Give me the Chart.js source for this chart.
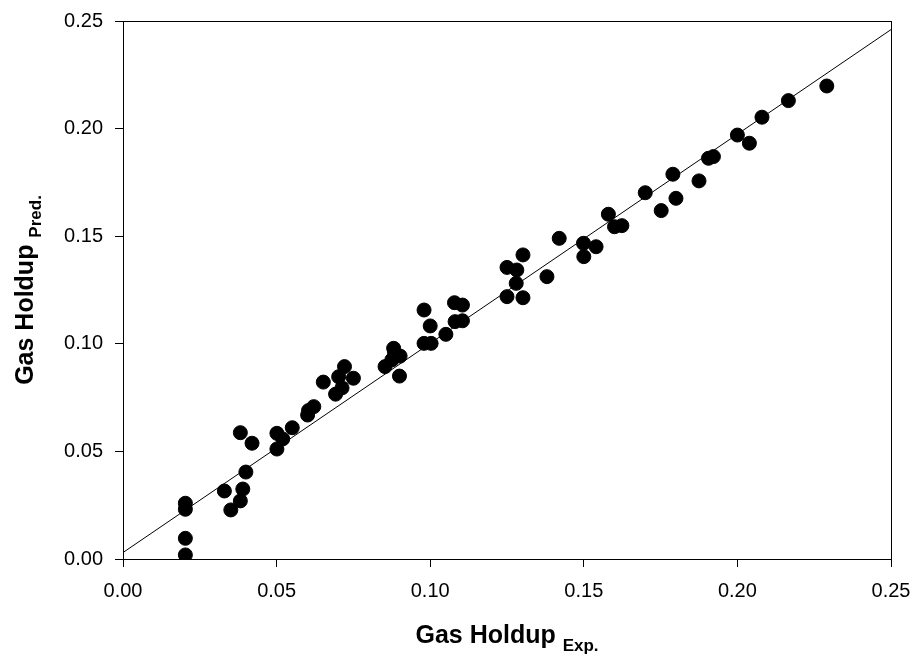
<!DOCTYPE html>
<html>
<head>
<meta charset="utf-8">
<script src="https://cdn.jsdelivr.net/npm/chart.js@4"></script>
<style>
    body { margin: 0; background: #fff; }
    canvas { display: block; }
</style>
</head>
<body>
<canvas id="holdup-chart" width="917" height="658"></canvas>
<script>
/// -------------- DATA --------------- ///

const expHoldup = [
    0.0203, 0.0203, 0.0203, 0.0203, 0.033, 0.0351, 0.0382, 0.039, 0.040, 0.0382,
    0.042, 0.0501, 0.052, 0.0501, 0.0551, 0.0601, 0.0604, 0.0621, 0.0652, 0.0692,
    0.0713, 0.0702, 0.0721, 0.075, 0.0853, 0.0881, 0.0884, 0.0902, 0.0875, 0.090,
    0.098, 0.100, 0.098, 0.1003, 0.1051, 0.1079, 0.1105, 0.1081, 0.1105, 0.125,
    0.1282, 0.128, 0.125, 0.1302, 0.1302, 0.138, 0.142, 0.1499, 0.154, 0.150,
    0.158, 0.160, 0.1624, 0.170, 0.1752, 0.179, 0.180, 0.1875, 0.1906, 0.1922,
    0.200, 0.2039, 0.208, 0.2166, 0.2291
];

const predHoldup = [
    0.0259, 0.0231, 0.0096, 0.0019, 0.0316, 0.0228, 0.027, 0.0325, 0.0404, 0.0587,
    0.0538, 0.0584, 0.0558, 0.0511, 0.061, 0.0669, 0.069, 0.0708, 0.0822, 0.0766,
    0.0795, 0.0847, 0.0894, 0.084, 0.0894, 0.0979, 0.0956, 0.0943, 0.0925, 0.085,
    0.1157, 0.1083, 0.1002, 0.1002, 0.1044, 0.1191, 0.118, 0.1103, 0.1107, 0.1355,
    0.1343, 0.1281, 0.1219, 0.1214, 0.1413, 0.1312, 0.149, 0.1467, 0.1451, 0.1405,
    0.1602, 0.1544, 0.1549, 0.1702, 0.1619, 0.1788, 0.1676, 0.1757, 0.1862, 0.187,
    0.197, 0.1932, 0.2053, 0.213, 0.2198
];

// fitted line end points
const fitX = [0.0, 0.25];
const fitY = [0.003, 0.246];

const tickValues = [0.00, 0.05, 0.10, 0.15, 0.20, 0.25];

/// -------------- CHART --------------- ///

const FONT = "'Liberation Sans', Arial, sans-serif";

// box on top/right + axis titles with subscripts
const frameAndTitles = {
    id: 'frameAndTitles',
    afterDraw(chart) {
        const { ctx, chartArea: a } = chart;
        ctx.save();
        ctx.strokeStyle = '#000';
        ctx.lineWidth = 1;
        ctx.strokeRect(a.left + 0.5, a.top + 0.5, a.right - a.left, a.bottom - a.top);

        ctx.fillStyle = '#000';
        ctx.textBaseline = 'alphabetic';

        function subTitle(main, sub, x, y) {
            ctx.font = 'bold 25px ' + FONT;
            const w1 = ctx.measureText(main + ' ').width;
            ctx.font = 'bold 17px ' + FONT;
            const w2 = ctx.measureText(sub).width;
            const start = x - (w1 + w2) / 2;
            ctx.textAlign = 'left';
            ctx.font = 'bold 25px ' + FONT;
            ctx.fillText(main + ' ', start, y);
            ctx.font = 'bold 17px ' + FONT;
            ctx.fillText(sub, start + w1, y + 8);
        }

        subTitle('Gas Holdup', 'Exp.', (a.left + a.right) / 2, 643);

        ctx.translate(33, (a.top + a.bottom) / 2);
        ctx.rotate(-Math.PI / 2);
        subTitle('Gas Holdup', 'Pred.', 0, 0);
        ctx.restore();
    }
};

// drop the extra room chart.js keeps for the end tick labels
function noLabelPadding(scale) {
    scale.paddingTop = 0;
    scale.paddingBottom = 0;
    scale.paddingLeft = 0;
    scale.paddingRight = 0;
}

new Chart(document.getElementById('holdup-chart'), {
    type: 'scatter',
    data: {
        datasets: [
            {
                label: 'Data',
                data: expHoldup.map((x, i) => ({ x: x, y: predHoldup[i] })),
                backgroundColor: '#000',
                borderColor: '#000',
                pointRadius: 7,
                pointHoverRadius: 7
            },
            {
                type: 'line',
                label: 'Fit',
                data: fitX.map((x, i) => ({ x: x, y: fitY[i] })),
                borderColor: '#000',
                borderWidth: 1,
                pointRadius: 0,
                fill: false
            }
        ]
    },
    options: {
        responsive: false,
        animation: false,
        layout: {
            padding: { top: 21, right: 26, left: 0, bottom: 0 }
        },
        plugins: {
            legend: { display: false },
            tooltip: { enabled: false }
        },
        scales: {
            x: {
                type: 'linear',
                min: 0,
                max: 0.25,
                afterBuildTicks: scale => {
                    scale.ticks = tickValues.map(v => ({ value: v }));
                },
                afterFit: scale => {
                    scale.height = 99;
                    noLabelPadding(scale);
                },
                grid: {
                    drawOnChartArea: false,
                    drawTicks: true,
                    tickLength: 8,
                    tickColor: '#000'
                },
                border: { display: true, color: '#000', width: 1 },
                ticks: {
                    color: '#000',
                    padding: 12,
                    maxRotation: 0,
                    font: { family: FONT, size: 20 },
                    callback: v => v.toFixed(2)
                }
            },
            y: {
                type: 'linear',
                min: 0,
                max: 0.25,
                afterBuildTicks: scale => {
                    scale.ticks = tickValues.map(v => ({ value: v }));
                },
                afterFit: scale => {
                    scale.width = 123;
                    noLabelPadding(scale);
                },
                grid: {
                    drawOnChartArea: false,
                    drawTicks: true,
                    tickLength: 8,
                    tickColor: '#000'
                },
                border: { display: true, color: '#000', width: 1 },
                ticks: {
                    color: '#000',
                    padding: 12,
                    font: { family: FONT, size: 20 },
                    callback: v => v.toFixed(2)
                }
            }
        }
    },
    plugins: [frameAndTitles]
});
</script>
</body>
</html>
